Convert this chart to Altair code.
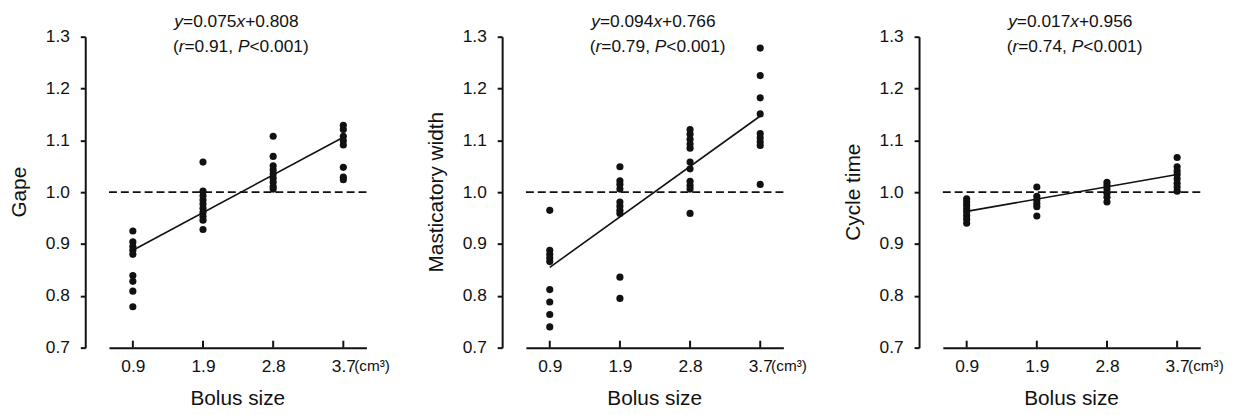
import altair as alt
import pandas as pd

# ---------------- data ----------------
bolus_labels = ["0.9", "1.9", "2.8", "3.7"]
bolus_pos = [1, 2, 3, 4]

gape_09 = [0.925, 0.904, 0.895, 0.888, 0.880, 0.839, 0.828, 0.809, 0.779]
gape_19 = [1.058, 1.002, 0.993, 0.985, 0.977, 0.969, 0.961, 0.953, 0.946, 0.928]
gape_28 = [1.108, 1.069, 1.051, 1.043, 1.035, 1.027, 1.019, 1.011, 1.006]
gape_37 = [1.129, 1.121, 1.108, 1.099, 1.091, 1.048, 1.029, 1.024]
gape_fit = [0.888, 1.106]

width_09 = [0.965, 0.888, 0.880, 0.873, 0.866, 0.812, 0.788, 0.764, 0.740]
width_19 = [1.049, 1.022, 1.015, 1.006, 0.981, 0.973, 0.965, 0.959, 0.836, 0.795]
width_28 = [1.121, 1.112, 1.102, 1.093, 1.085, 1.058, 1.045, 1.021, 1.013, 1.006, 0.959]
width_37 = [1.278, 1.225, 1.182, 1.151, 1.113, 1.105, 1.097, 1.090, 1.015]
width_fit = [0.855, 1.147]

cycle_09 = [0.987, 0.981, 0.975, 0.968, 0.962, 0.955, 0.948, 0.940]
cycle_19 = [1.010, 0.992, 0.985, 0.978, 0.972, 0.954]
cycle_28 = [1.019, 1.013, 1.006, 0.998, 0.990, 0.981]
cycle_37 = [1.067, 1.049, 1.041, 1.034, 1.026, 1.017, 1.010, 1.002]
cycle_fit = [0.963, 1.034]

y_titles = ["Gape", "Masticatory width", "Cycle time"]
x_title = "Bolus size"
eq_line1 = [
    [("y", True), ("=0.075", False), ("x", True), ("+0.808", False)],
    [("y", True), ("=0.094", False), ("x", True), ("+0.766", False)],
    [("y", True), ("=0.017", False), ("x", True), ("+0.956", False)],
]
eq_line2 = [
    [("(", False), ("r", True), ("=0.91, ", False), ("P", True), ("<0.001)", False)],
    [("(", False), ("r", True), ("=0.79, ", False), ("P", True), ("<0.001)", False)],
    [("(", False), ("r", True), ("=0.74, ", False), ("P", True), ("<0.001)", False)],
]
y_ticks = [0.7, 0.8, 0.9, 1.0, 1.1, 1.2, 1.3]
unit_label = "(cm³)"

# ---------------- layout / style ----------------
W, H = 260, 314
FONT = "Liberation Sans"
FS = 17.5
TFS = 21
INK = "#111111"

# Arial / Liberation Sans advance widths (per em)
ADV = {"(": .333, ")": .333, "=": .584, "+": .584, "<": .584, ",": .278,
       " ": .278, ".": .278, "y": .5, "x": .5, "r": .333, "P": .667}


def text_width(s, fs):
    return sum(ADV.get(c, .556) for c in s) * fs


def points_frame(groups):
    rows = []
    for p, vals in zip(bolus_pos, groups):
        for v in vals:
            rows.append({"pos": p, "val": v})
    return pd.DataFrame(rows)


def panel(groups, fit, ytitle, line1, line2):
    xenc = alt.X(
        "pos:Q",
        scale=alt.Scale(domain=[0.66, 4.33], nice=False, zero=False),
        axis=alt.Axis(
            values=bolus_pos,
            labelExpr=f"{bolus_labels}[datum.value - 1]",
            title=None,
            ticks=False,
            grid=False,
            domainWidth=2,
            domainColor=INK,
            labelFontSize=FS,
            labelColor=INK,
            labelBaseline="alphabetic",
            labelPadding=24,
        ),
    )
    yenc = alt.Y(
        "val:Q",
        scale=alt.Scale(domain=[0.7, 1.3], nice=False, zero=False),
        axis=alt.Axis(
            values=y_ticks,
            format=".1f",
            offset=24,
            grid=False,
            tickSize=5,
            tickWidth=2,
            tickColor=INK,
            domainWidth=2,
            domainColor=INK,
            labelFontSize=FS,
            labelColor=INK,
            labelPadding=11,
            title=None,
        ),
    )

    pts = alt.Chart(points_frame(groups)).mark_circle(
        size=52, color=INK, opacity=1
    ).encode(x=xenc, y=yenc)

    fit_df = pd.DataFrame({"pos": [bolus_pos[0], bolus_pos[-1]], "val": fit})
    fit_line = alt.Chart(fit_df).mark_line(color=INK, strokeWidth=1.6).encode(
        x=xenc, y=yenc
    )

    ref = alt.Chart(pd.DataFrame({"val": [1.0]})).mark_rule(
        color=INK, strokeWidth=1.8, strokeDash=[8, 4]
    ).encode(y=yenc, x=alt.value(0), x2=alt.value(W))

    ticks = alt.Chart(pd.DataFrame({"pos": bolus_pos})).mark_rule(
        color=INK, strokeWidth=2
    ).encode(x=xenc, y=alt.value(H), y2=alt.value(H - 7))

    unit = alt.Chart(pd.DataFrame({"t": [unit_label]})).mark_text(
        align="left", baseline="alphabetic", font=FONT, fontSize=15.5,
        color=INK, dx=11
    ).encode(x=alt.datum(bolus_pos[-1]), y=alt.value(H + 24), text="t:N")

    ytitle_mark = alt.Chart(pd.DataFrame({"t": [ytitle]})).mark_text(
        align="center", baseline="middle", font=FONT, fontSize=TFS,
        color=INK, angle=270
    ).encode(x=alt.value(-90), y=alt.value(H / 2), text="t:N")

    xtitle_mark = alt.Chart(pd.DataFrame({"t": [x_title]})).mark_text(
        align="center", baseline="alphabetic", font=FONT, fontSize=TFS,
        color=INK
    ).encode(x=alt.value(W / 2), y=alt.value(H + 58), text="t:N")

    layers = [ref, fit_line, pts, ticks, unit, ytitle_mark, xtitle_mark]

    for segs, x0, ybase in [(line1, 66, -9.5), (line2, 64.5, 15)]:
        cx = x0
        for s, ital in segs:
            layers.append(
                alt.Chart(pd.DataFrame({"t": [s]})).mark_text(
                    align="left", baseline="alphabetic", font=FONT,
                    fontSize=FS, color=INK,
                    fontStyle="italic" if ital else "normal",
                ).encode(x=alt.value(cx), y=alt.value(ybase), text="t:N")
            )
            cx += text_width(s, FS)

    return alt.layer(*layers).properties(width=W, height=H)


panels = [
    panel([gape_09, gape_19, gape_28, gape_37], gape_fit, y_titles[0], eq_line1[0], eq_line2[0]),
    panel([width_09, width_19, width_28, width_37], width_fit, y_titles[1], eq_line1[1], eq_line2[1]),
    panel([cycle_09, cycle_19, cycle_28, cycle_37], cycle_fit, y_titles[2], eq_line1[2], eq_line2[2]),
]

chart = alt.hconcat(*panels, spacing=36).properties(
    padding={"left": 1, "top": 3, "right": 5, "bottom": 2}
).configure(font=FONT).configure_view(stroke=None)

chart.save("out.html", embed_options={"renderer": "svg", "actions": False})
